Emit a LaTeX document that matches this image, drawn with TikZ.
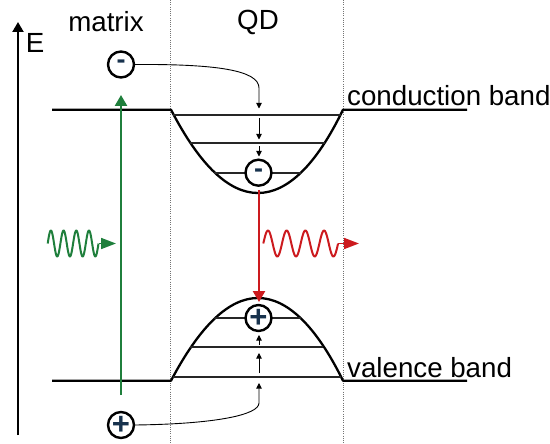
\documentclass[tikz,border=0pt]{standalone}
\usepackage{fontspec}
\setmainfont{Liberation Sans}
\usetikzlibrary{arrows.meta}
\definecolor{gr}{HTML}{1F7F3C}
\definecolor{rd}{HTML}{CC1A1E}
\definecolor{nv}{HTML}{17324D}
\tikzset{
  band/.style={line width=2.3pt,black},
  level/.style={line width=1.9pt,black!85},
  guide/.style={line width=0.9pt,black!55,dash pattern=on 1.1pt off 1.1pt},
  hop/.style={line width=0.9pt,black,-{Triangle[length=5.5pt,width=5.5pt]}},
  carrier/.style={circle,draw=black,line width=2.4pt,fill=white,minimum size=26pt,inner sep=0pt,text=nv},
  lbl/.style={inner sep=0pt,font=\fontsize{27.7}{30}\selectfont},
  blbl/.style={inner sep=0pt,anchor=base west,font=\fontsize{27.7}{30}\selectfont},
  opt/.style={line width=2.5pt,-{Triangle[length=11pt,width=12pt]}},
  wave/.style={line width=2pt,line join=round},
}
\begin{document}
\begin{tikzpicture}[x=1pt,y=-1pt]
\useasboundingbox (0,0) rectangle (550,444);
% guides
\coordinate (g1a) at (170.5,0); \coordinate (g1b) at (170.5,444);
\coordinate (g2a) at (343.5,0); \coordinate (g2b) at (343.5,444);
\draw[guide] (g1a) -- (g1b);
\draw[guide] (g2a) -- (g2b);
% axis
\coordinate (axb) at (18,435); \coordinate (axt) at (18,22);
\draw[line width=2.2pt,-{Triangle[length=10pt,width=11pt]}] (axb) -- (axt);
\node[lbl] (E) at (35,43) {E};
\node[lbl] (mx) at (106,22) {matrix};
\node[lbl] (qd) at (258,22) {QD};
% conduction band
\coordinate (cl) at (52,109.7); \coordinate (ca) at (171,109.7);
\coordinate (cb) at (343,109.7); \coordinate (cr) at (467,109.7);
\draw[band,line join=round] (cl) -- (ca) .. controls (200,165.7) and (229,193) .. (258,193)
   .. controls (287,193) and (316,165.7) .. (cb) -- (cr);
\draw[level] (173,114.7) -- (341,114.7);
\draw[level] (190,143.3) -- (325,143.3);
\draw[level] (214,172.7) -- (301,172.7);
% valence band
\coordinate (vl) at (52,380.7); \coordinate (va) at (171,380.7);
\coordinate (vb) at (343,380.7); \coordinate (vr) at (467,380.7);
\draw[band,line join=round] (vl) -- (va) .. controls (200,325.7) and (229,298) .. (258,298)
   .. controls (287,298) and (316,325.7) .. (vb) -- (vr);
\draw[level] (173,376.7) -- (341,376.7);
\draw[level] (190,347) -- (323,347);
\draw[level] (214,318) -- (301,318);
% carriers
\node[carrier] (e1) at (121,64.5) {\fontsize{27}{27}\selectfont\bfseries\raisebox{-1.5pt}{-}};
\node[carrier] (e2) at (258.5,172.7) {\fontsize{27}{27}\selectfont\bfseries\raisebox{-1.5pt}{-}};
\node[carrier] (h1) at (121,425) {\fontsize{31}{31}\selectfont\bfseries +};
\node[carrier] (h2) at (258.5,318) {\fontsize{31}{31}\selectfont\bfseries +};
% relaxation hops
\coordinate (c1) at (259,108.5);
\draw[hop] (e1.east) .. controls (215,64) and (259,70) .. (259,88) -- (c1);
\coordinate (c2a) at (259,118); \coordinate (c2b) at (259,139.5);
\draw[hop] (c2a) -- (c2b);
\coordinate (c3a) at (259,146.5); \coordinate (c3b) at (259,156.5);
\draw[hop] (c3a) -- (c3b);
\coordinate (v1) at (259,383);
\draw[hop] (h1.east) .. controls (215,424) and (259,415) .. (259,403) -- (v1);
\coordinate (v2a) at (259,373); \coordinate (v2b) at (259,353);
\draw[hop] (v2a) -- (v2b);
\coordinate (v3a) at (259,345); \coordinate (v3b) at (259,335);
\draw[hop] (v3a) -- (v3b);
% optical transitions
\coordinate (ga) at (121,395); \coordinate (gb) at (121,95);
\draw[opt,gr] (ga) -- (gb);
\coordinate (ra) at (259,190); \coordinate (rb) at (259,302);
\draw[opt,rd] (ra) -- (rb);
% waves
\draw[wave,gr] plot[domain=0:4,samples=120,smooth] ({47.7+12.7*\x},{243.5-13*sin(360*\x)});
\coordinate (gw1) at (98.5,243.5); \coordinate (gw2) at (116,243.5);
\draw[line width=1.7pt,gr,-{Triangle[length=15pt,width=11pt]}] (gw1) -- (gw2);
\draw[wave,rd] plot[domain=0:4,samples=120,smooth] ({263.3+18.7*\x},{243.5-13*sin(360*\x)});
\coordinate (rw1) at (338,243.5); \coordinate (rw2) at (359,243.5);
\draw[line width=1.7pt,rd,-{Triangle[length=15pt,width=11pt]}] (rw1) -- (rw2);
% labels
\node[blbl] (cbl) at (347,106) {conduction band};
\node[blbl] (vbl) at (347,377) {valence band};
\end{tikzpicture}
\end{document}
